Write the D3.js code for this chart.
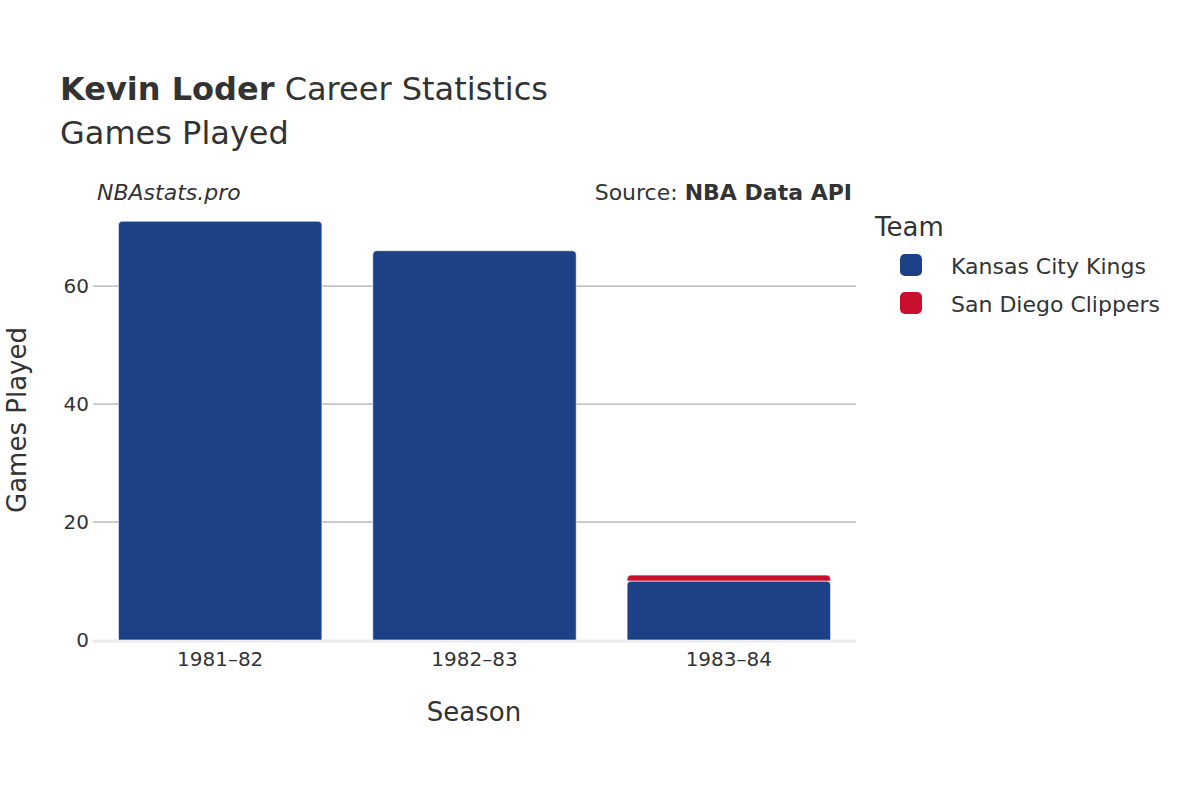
<!DOCTYPE html>
<html><head><meta charset="utf-8">
<script src="https://cdn.jsdelivr.net/npm/d3@7"></script>
<style>body{margin:0;background:#fff}text{font-family:"DejaVu Sans",sans-serif;fill:#333}</style>
</head><body><svg id="c" width="1200" height="800"></svg>
<script>
var seasons = ["1981–82", "1982–83", "1983–84"];
var teams = ["Kansas City Kings", "San Diego Clippers"];
var teamColors = ["#1c4187", "#c8102e"];
var kingsGames = [71, 66, 10];
var clippersGames = [0, 0, 1];
var yTicks = [0, 20, 40, 60];

var svg = d3.select("#c");
var x = d3.scaleBand().domain(seasons).range([93, 856]).paddingInner(0.2).paddingOuter(0.1);
var y = d3.scaleLinear().domain([0, 74.6]).range([640, 200]);

// grid
svg.append("g").selectAll("line").data(yTicks.slice(1)).enter().append("line")
  .attr("x1", 93).attr("x2", 856).attr("y1", d => y(d)).attr("y2", d => y(d))
  .attr("stroke", "#999").attr("stroke-width", 1);
svg.append("line").attr("x1", 93).attr("x2", 856).attr("y1", 641).attr("y2", 641)
  .attr("stroke", "#ebebeb").attr("stroke-width", 3);

var rows = seasons.map((s, i) => ({season: s, k: kingsGames[i], c: clippersGames[i]}));
var stack = d3.stack().keys(["k", "c"])(rows);

function roundTop(x0, y0, w, h, r) {
  r = Math.min(r, h);
  return "M" + x0 + "," + (y0 + h) + "V" + (y0 + r) + "Q" + x0 + "," + y0 + " " + (x0 + r) + "," + y0 +
    "H" + (x0 + w - r) + "Q" + (x0 + w) + "," + y0 + " " + (x0 + w) + "," + (y0 + r) + "V" + (y0 + h) + "Z";
}
stack.forEach(function(layer, li) {
  svg.append("g").selectAll("path").data(layer.filter(d => d[1] > d[0])).enter().append("path")
    .attr("d", d => roundTop(x(d.data.season), y(d[1]), x.bandwidth(), y(d[0]) - y(d[1]), 4))
    .attr("fill", teamColors[li]).attr("stroke", "#fff").attr("stroke-width", 0.6);
});

// axes labels
svg.append("g").selectAll("text").data(yTicks).enter().append("text")
  .attr("x", 89).attr("y", d => y(d) + 7).attr("text-anchor", "end").attr("font-size", 20).text(d => d);
svg.append("g").selectAll("text").data(seasons).enter().append("text")
  .attr("x", d => x(d) + x.bandwidth() / 2).attr("y", 666).attr("text-anchor", "middle").attr("font-size", 20).text(d => d);
svg.append("text").attr("x", 474).attr("y", 721).attr("text-anchor", "middle").attr("font-size", 26).text("Season");
svg.append("text").attr("transform", "translate(26,420) rotate(-90)").attr("text-anchor", "middle").attr("font-size", 26).text("Games Played");

// titles
var t = svg.append("text").attr("x", 60).attr("y", 100).attr("font-size", 32);
t.append("tspan").attr("font-weight", "bold").text("Kevin Loder");
t.append("tspan").text(" Career Statistics");
svg.append("text").attr("x", 60).attr("y", 144).attr("font-size", 32).text("Games Played");
svg.append("text").attr("x", 97).attr("y", 200).attr("font-size", 22).attr("font-style", "italic").text("NBAstats.pro");
var s = svg.append("text").attr("x", 852).attr("y", 200).attr("font-size", 22).attr("text-anchor", "end");
s.append("tspan").text("Source: ");
s.append("tspan").attr("font-weight", "bold").text("NBA Data API");

// legend
svg.append("text").attr("x", 875).attr("y", 236).attr("font-size", 26).text("Team");
var lg = svg.append("g").selectAll("g").data(teams).enter().append("g")
  .attr("transform", (d, i) => "translate(900," + (254 + i * 38) + ")");
lg.append("rect").attr("width", 22).attr("height", 22).attr("rx", 5).attr("fill", (d, i) => teamColors[i]);
lg.append("text").attr("x", 51).attr("y", 20).attr("font-size", 22).text(d => d);
</script></body></html>
